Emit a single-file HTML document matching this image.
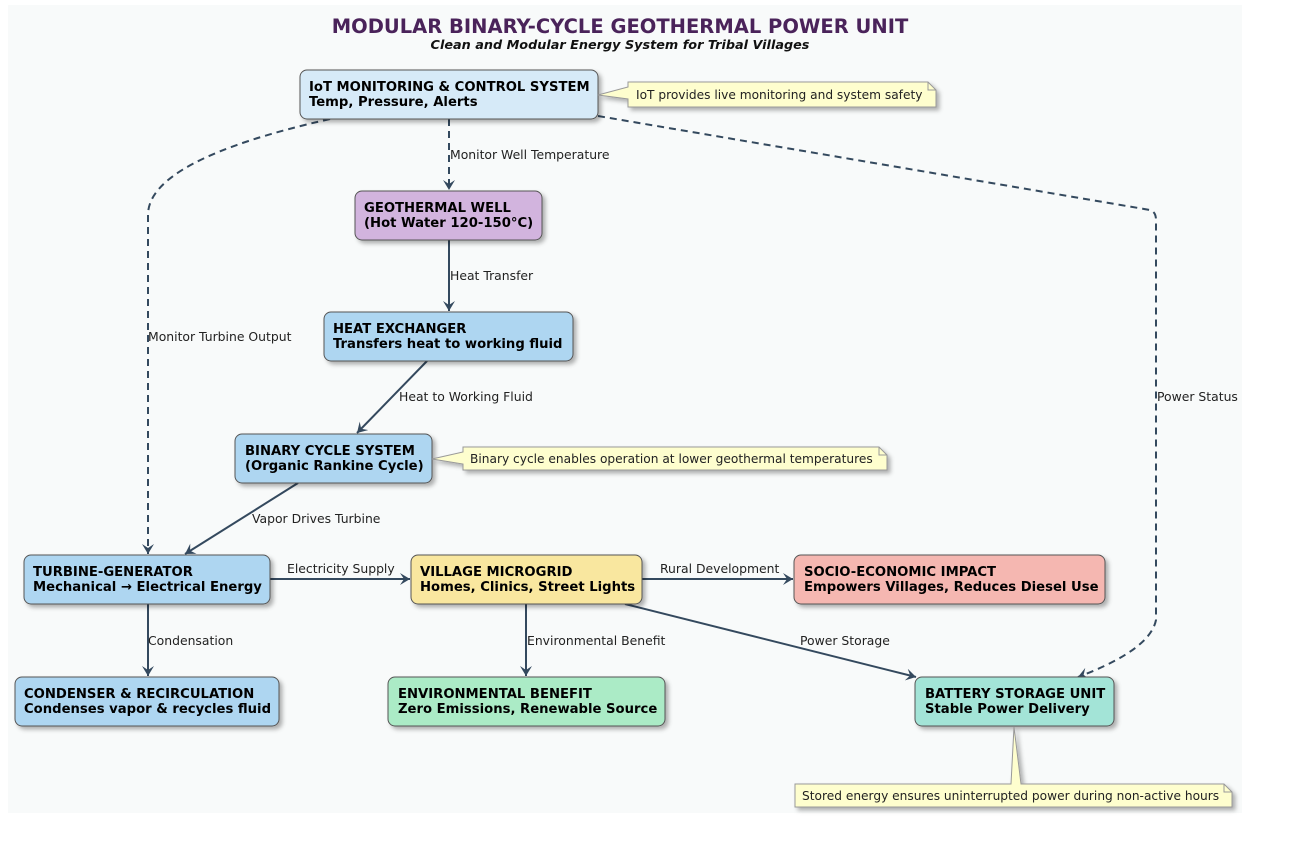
<!DOCTYPE html>
<html><head><meta charset="utf-8"><style>
html,body{margin:0;padding:0;background:#fff;}
svg{display:block;}
text{font-family:"DejaVu Sans","Liberation Sans",sans-serif;}
.b{font-weight:bold;font-size:13.2px;fill:#000;}
.l{font-size:12.4px;fill:#222;}
.n{font-size:12.2px;fill:#222;}
</style></head><body>
<svg width="1300" height="852" viewBox="0 0 1300 852" xmlns="http://www.w3.org/2000/svg">
<defs>
<filter id="sh" x="-10%" y="-10%" width="130%" height="140%"><feDropShadow dx="3" dy="3" stdDeviation="2" flood-color="#000" flood-opacity="0.3"/></filter>
<marker id="ar" markerWidth="12" markerHeight="12" refX="10" refY="6" orient="auto" markerUnits="userSpaceOnUse"><path d="M0,0 L10,6 L0,12 L4,6 Z" fill="#34495e"/></marker>
</defs>
<rect x="8" y="5" width="1234" height="808" fill="#f8fafa"/>
<text x="620" y="33" text-anchor="middle" font-weight="bold" font-size="19.5" fill="#4a235a">MODULAR BINARY-CYCLE GEOTHERMAL POWER UNIT</text>
<text x="620" y="49" text-anchor="middle" font-weight="bold" font-style="italic" font-size="12.8" fill="#111">Clean and Modular Energy System for Tribal Villages</text>

<g stroke="#34495e" stroke-width="2" fill="none">
<path d="M449,119 L449,190" stroke-dasharray="7,5" marker-end="url(#ar)"/>
<path d="M330,119 Q148,160 148,215 L148,554" stroke-dasharray="7,5" marker-end="url(#ar)"/>
<path d="M598,116 L1150,210 Q1156,212 1156,220 L1156,620 Q1150,650 1078,677" stroke-dasharray="7,5" marker-end="url(#ar)"/>
<path d="M449,240 L449,311" marker-end="url(#ar)"/>
<path d="M427,361 L357,433" marker-end="url(#ar)"/>
<path d="M298,483 L185,554" marker-end="url(#ar)"/>
<path d="M270,579 L410,579" marker-end="url(#ar)"/>
<path d="M642,579 L793,579" marker-end="url(#ar)"/>
<path d="M148,604 L148,676" marker-end="url(#ar)"/>
<path d="M526,604 L526,676" marker-end="url(#ar)"/>
<path d="M625,604 L916,677" marker-end="url(#ar)"/>
</g>

<g filter="url(#sh)" stroke="#555" stroke-width="1">
<rect x="300" y="70" width="298" height="49" rx="7" fill="#d6eaf8"/>
<rect x="355" y="191" width="187" height="49" rx="7" fill="#d2b4de"/>
<rect x="324" y="312" width="249" height="49" rx="7" fill="#aed6f1"/>
<rect x="235" y="434" width="197" height="49" rx="7" fill="#aed6f1"/>
<rect x="24" y="555" width="246" height="49" rx="7" fill="#aed6f1"/>
<rect x="411" y="555" width="231" height="49" rx="7" fill="#f9e79f"/>
<rect x="794" y="555" width="311" height="49" rx="7" fill="#f5b7b1"/>
<rect x="15" y="677" width="264" height="49" rx="7" fill="#aed6f1"/>
<rect x="388" y="677" width="277" height="49" rx="7" fill="#abebc6"/>
<rect x="915" y="677" width="199" height="49" rx="7" fill="#a3e4d7"/>
</g>

<g filter="url(#sh)" fill="#fefece" stroke="#999" stroke-width="1">
<path d="M598,95 L628,87 L628,82 L928,82 L936,90 L936,107 L628,107 L628,99 Z"/>
<path d="M432,459 L463,452 L463,447 L879,447 L887,455 L887,470 L463,470 L463,464 Z"/>
<path d="M1014,727 L1021,784 L1224,784 L1232,792 L1232,807 L795,807 L795,784 L1011,784 Z"/>
</g>
<g fill="none" stroke="#999"><path d="M928,82 L928,90 L936,90"/><path d="M879,447 L879,455 L887,455"/><path d="M1224,784 L1224,792 L1232,792"/></g>

<text class="n" x="636" y="99">IoT provides live monitoring and system safety</text>
<text class="n" x="470" y="463">Binary cycle enables operation at lower geothermal temperatures</text>
<text class="n" x="802" y="800">Stored energy ensures uninterrupted power during non-active hours</text>

<text class="b" x="309" y="91">IoT MONITORING &amp; CONTROL SYSTEM</text><text class="b" x="309" y="106">Temp, Pressure, Alerts</text>
<text class="b" x="364" y="212">GEOTHERMAL WELL</text><text class="b" x="364" y="227">(Hot Water 120-150°C)</text>
<text class="b" x="333" y="333">HEAT EXCHANGER</text><text class="b" x="333" y="348">Transfers heat to working fluid</text>
<text class="b" x="245" y="455">BINARY CYCLE SYSTEM</text><text class="b" x="245" y="470">(Organic Rankine Cycle)</text>
<text class="b" x="33" y="576">TURBINE-GENERATOR</text><text class="b" x="33" y="591">Mechanical → Electrical Energy</text>
<text class="b" x="420" y="576">VILLAGE MICROGRID</text><text class="b" x="420" y="591">Homes, Clinics, Street Lights</text>
<text class="b" x="804" y="576">SOCIO-ECONOMIC IMPACT</text><text class="b" x="804" y="591">Empowers Villages, Reduces Diesel Use</text>
<text class="b" x="24" y="698">CONDENSER &amp; RECIRCULATION</text><text class="b" x="24" y="713">Condenses vapor &amp; recycles fluid</text>
<text class="b" x="398" y="698">ENVIRONMENTAL BENEFIT</text><text class="b" x="398" y="713">Zero Emissions, Renewable Source</text>
<text class="b" x="925" y="698">BATTERY STORAGE UNIT</text><text class="b" x="925" y="713">Stable Power Delivery</text>

<text class="l" x="450" y="159">Monitor Well Temperature</text>
<text class="l" x="148" y="341">Monitor Turbine Output</text>
<text class="l" x="1157" y="401">Power Status</text>
<text class="l" x="450" y="280">Heat Transfer</text>
<text class="l" x="399" y="401">Heat to Working Fluid</text>
<text class="l" x="252" y="523">Vapor Drives Turbine</text>
<text class="l" x="287" y="573">Electricity Supply</text>
<text class="l" x="660" y="573">Rural Development</text>
<text class="l" x="148" y="645">Condensation</text>
<text class="l" x="527" y="645">Environmental Benefit</text>
<text class="l" x="800" y="645">Power Storage</text>
</svg>
</body></html>
